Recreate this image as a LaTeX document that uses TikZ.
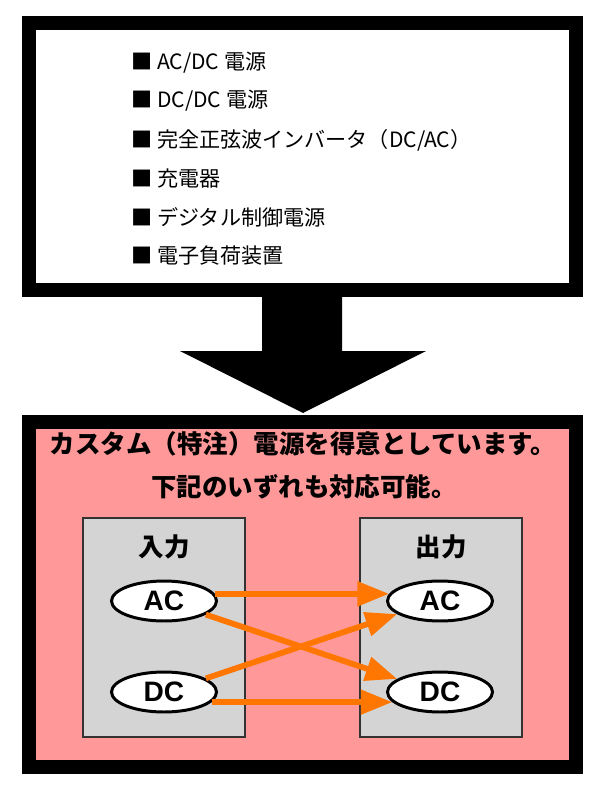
\documentclass[tikz,border=0pt]{standalone}
\usepackage{fontspec}
\newfontfamily\jpfont{Noto Sans CJK JP}
\newfontfamily\latinfont{Liberation Sans}
\usetikzlibrary{arrows.meta,shapes.geometric}
\definecolor{panelpink}{HTML}{FF9999}
\definecolor{sidegray}{HTML}{D4D4D4}
\definecolor{floworange}{HTML}{FF7700}

\begin{document}
\begin{tikzpicture}[x=0.02cm,y=-0.02cm,
  frame/.style={draw=black, line width=7.9pt},
  listitem/.style={anchor=west, inner sep=0pt, font=\jpfont\fontsize{12}{14}\selectfont},
  headline/.style={inner sep=0pt, font=\jpfont\bfseries\fontsize{14.5}{17}\selectfont},
  sidebox/.style={draw=black!80, fill=sidegray, line width=0.6pt, minimum width=3.24cm, minimum height=4.38cm, inner sep=0pt},
  port/.style={ellipse, draw, line width=1.7pt, fill=white, minimum width=2.1cm, minimum height=0.8cm, inner sep=0pt, font=\latinfont\bfseries\fontsize{16}{18}\selectfont},
  flow/.style={draw=floworange, line width=3.3pt, -{Triangle[length=18pt,width=13.5pt]}}]
\useasboundingbox (0,0) rectangle (600,793);

% top list
\draw[frame, fill=white] (29,23) rectangle (576,290);
\node[listitem] (acdc) at (131,63) {■ AC/DC 電源};
\node[listitem] (dcdc) at (131,101) {■ DC/DC 電源};
\node[listitem] (inverter) at (131,140) {■ 完全正弦波インバータ（DC/AC）};
\node[listitem] (charger) at (131,179) {■ 充電器};
\node[listitem] (digital) at (131,217) {■ デジタル制御電源};
\node[listitem] (eload) at (131,256) {■ 電子負荷装置};

% big arrow
\fill (262,297) -- (342,297) -- (342,351) -- (426,351) -- (303,413) -- (180,351) -- (262,351) -- cycle;

% bottom panel
\draw[frame, fill=panelpink] (29,422) rectangle (576,767);
\node[headline] (custom) at (303,444) {カスタム（特注）電源を得意としています。};
\node[headline] (either) at (304,487) {下記のいずれも対応可能。};

\node[sidebox] (inbox) at (164,627.5) {};
\node[sidebox] (outbox) at (441,627.5) {};
\node[headline] (inlabel) at (164,547) {入力};
\node[headline] (outlabel) at (441,547) {出力};

\node[port] (acin) at (164,601) {AC};
\node[port] (dcin) at (164,692) {DC};
\node[port] (acout) at (440,601) {AC};
\node[port] (dcout) at (440,692) {DC};

\draw[flow] (acin.8) -- (acout.172);
\draw[flow] (acin.-18) -- (dcout.163);
\draw[flow] (dcin.18) -- (acout.197);
\draw[flow] (dcin.-12) -- (dcout.192);
\end{tikzpicture}
\end{document}
